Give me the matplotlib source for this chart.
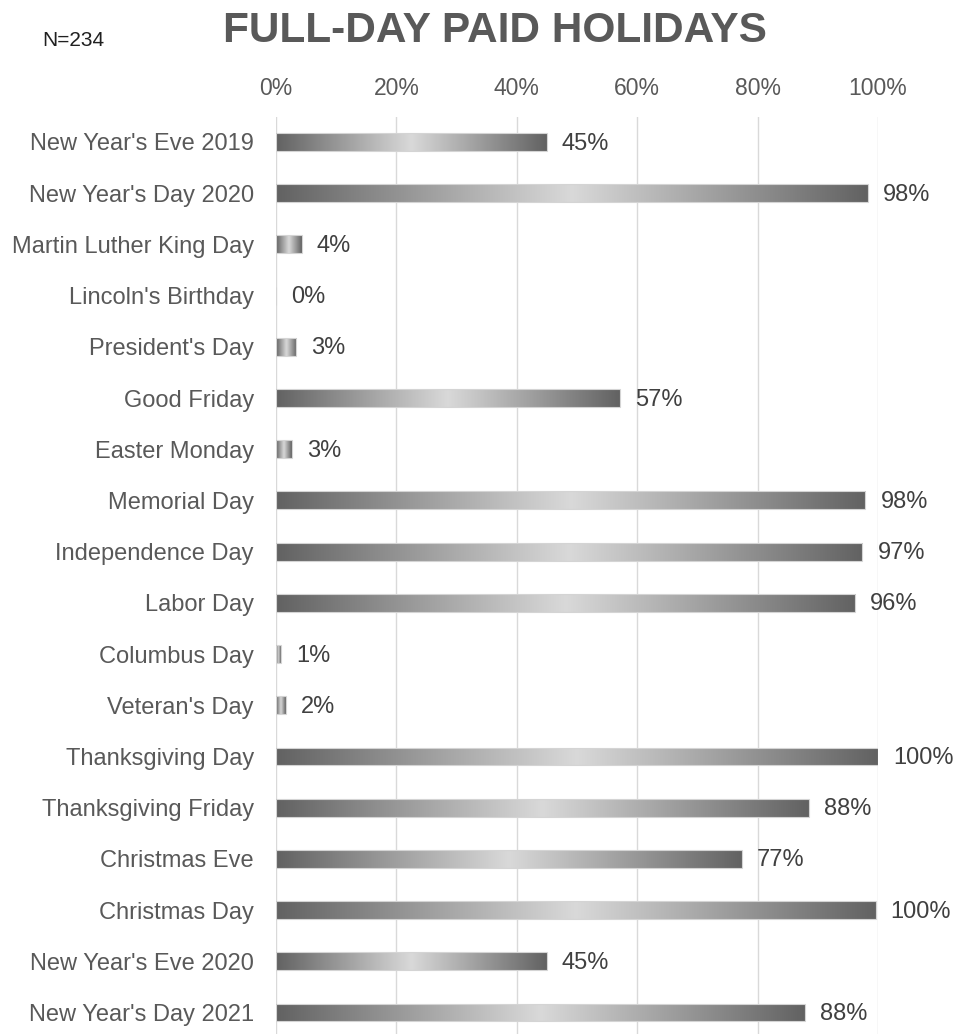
import numpy as np
import matplotlib.pyplot as plt
from matplotlib.colors import LinearSegmentedColormap

plt.rcParams['font.family'] = ['Liberation Sans', 'DejaVu Sans']

# data
holidays = ["New Year's Eve 2019", "New Year's Day 2020", "Martin Luther King Day",
            "Lincoln's Birthday", "President's Day", "Good Friday", "Easter Monday",
            "Memorial Day", "Independence Day", "Labor Day", "Columbus Day",
            "Veteran's Day", "Thanksgiving Day", "Thanksgiving Friday", "Christmas Eve",
            "Christmas Day", "New Year's Eve 2020", "New Year's Day 2021"]
pct = [45.0, 98.3, 4.3, 0.0, 3.4, 57.1, 2.6, 97.9, 97.4, 96.2, 0.8, 1.6,
       100.0, 88.5, 77.4, 99.6, 45.0, 87.8]
xticks = [0, 20, 40, 60, 80, 100]

fig = plt.figure(figsize=(9.58, 10.34), dpi=100)
ax = fig.add_axes([276 / 958, 0, (878 - 276) / 958, 1 - 117 / 1034])

y = np.arange(len(holidays))
bars = ax.barh(y, pct, height=0.35, color='none', edgecolor='#d4d4d4', linewidth=0.8, zorder=3)

# horizontal gradient inside each bar: dark - light - dark
cmap = LinearSegmentedColormap.from_list('grad', ['#626262', '#d9d9d9', '#626262'])
grad = np.linspace(0, 1, 256).reshape(1, -1)
for b in bars:
    w = b.get_width()
    if w <= 0:
        continue
    x0, y0, h = b.get_x(), b.get_y(), b.get_height()
    im = ax.imshow(grad, cmap=cmap, extent=[x0, x0 + w, y0 + h, y0], aspect='auto',
                   interpolation='bicubic', zorder=2)
    im.set_clip_path(b)

for yi, v in zip(y, pct):
    ax.text(v + 2.5, yi + 0.03, f'{v:.0f}%', va='center', ha='left', fontsize=17, color='#404040')

ax.set_xlim(0, 100)
ax.set_ylim(17.42, -0.488)
ax.set_yticks(y)
ax.set_yticklabels(holidays, fontsize=17, color='#595959')
ax.set_xticks(xticks)
ax.set_xticklabels([f'{t}%' for t in xticks], fontsize=16.5, color='#595959')
ax.xaxis.tick_top()
ax.tick_params(axis='both', length=0)
ax.tick_params(axis='y', pad=16)
ax.tick_params(axis='x', pad=12)
ax.grid(axis='x', color='#d9d9d9', linewidth=1, zorder=0)
ax.set_axisbelow(True)
for s in ax.spines.values():
    s.set_visible(False)

fig.text(495 / 958, 1 - 31 / 1034, 'FULL-DAY PAID HOLIDAYS', ha='center', va='center',
         fontsize=30.5, fontweight='bold', color='#595959')
fig.text(42 / 958, 1 - 40 / 1034, 'N=234', ha='left', va='center', fontsize=15, color='#202020')

fig.savefig('out.png', dpi=100)
